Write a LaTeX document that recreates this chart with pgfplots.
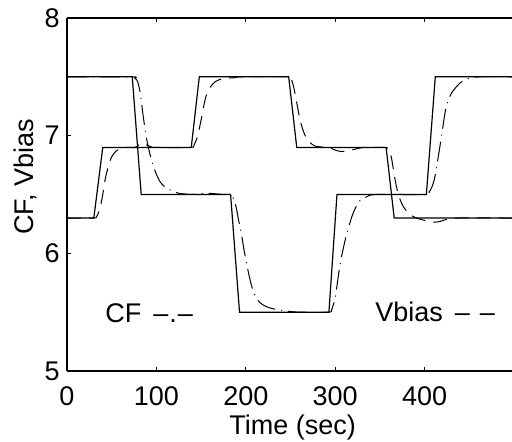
\documentclass[border=0pt]{standalone}
\usepackage{fontspec}
\setmainfont{Liberation Sans}
\usepackage{pgfplots}
\pgfplotsset{compat=1.18}
\newcommand{\fs}{\fontsize{13.5}{16}\selectfont}
\begin{document}
\begin{tikzpicture}
\begin{axis}[
  scale only axis,
  width=222.5pt, height=176.5pt,
  xmin=0, xmax=497.8, ymin=5, ymax=8,
  axis x line*=box, axis y line*=left,
  xtick={0,100,200,300,400}, ytick={5,6,7,8},
  tick align=inside, major tick length=1.8pt,
  every tick/.style={black, line width=0.5pt},
  axis line style={black, line width=0.55pt},
  /pgf/number format/assume math mode=true,
  ticklabel style={font=\fs, inner sep=0pt},
  xticklabel style={anchor=north, yshift=-7.5pt},
  yticklabel style={anchor=east, xshift=-3.5pt},
  xlabel={Time (sec)}, ylabel={CF, Vbias},
  label style={font=\fs, inner sep=0pt},
  xlabel style={at={(axis description cs:0.507,-0.1785)}, anchor=base},
  ylabel style={at={(axis description cs:-0.0764,0.55)}, anchor=base, rotate=0},
]
% CF setpoint
\addplot[black, line width=0.6pt] coordinates {
(0,7.5) (73,7.5) (83,6.5) (183,6.5) (193,5.5) (293,5.5) (302,6.5) (402,6.5) (412,7.5) (500,7.5)};
% Vbias setpoint
\addplot[black, line width=0.6pt] coordinates {
(0,6.3) (30,6.3) (40,6.9) (139,6.9) (148,7.5) (248,7.5) (257,6.9) (357,6.9) (366,6.3) (500,6.3)};
% CF response (dash-dot)
\addplot[black, line width=0.5pt, dash pattern=on 10pt off 3pt on 0.5pt off 3pt, smooth, tension=0.4] coordinates {
(0,7.5) (73,7.5) (76,7.49) (79,7.46) (82,7.36) (85,7.18) (88,7.02) (91,6.90) (95,6.78) (99,6.69)
(104,6.61) (110,6.56) (118,6.53) (125,6.51) (140,6.50) (150,6.51) (160,6.51) (175,6.50) (183,6.50)
(186,6.47) (189,6.40) (192,6.28) (195,6.17) (198,6.03) (201,5.91) (204,5.80) (207,5.71) (211,5.63)
(216,5.58) (222,5.55) (230,5.53) (245,5.51) (260,5.50) (293,5.50) (296,5.52) (300,5.62) (303,5.78)
(306,5.93) (309,6.04) (312,6.14) (315,6.22) (319,6.32) (323,6.39) (328,6.45) (335,6.48) (345,6.50)
(402,6.50) (405,6.52) (408,6.56) (411,6.63) (414,6.76) (417,6.90) (420,7.05) (423,7.20) (426,7.29)
(430,7.36) (435,7.41) (440,7.45) (447,7.48) (460,7.50) (500,7.50)};
% Vbias response (dashed)
\addplot[black, line width=0.5pt, dash pattern=on 7pt off 4pt, smooth, tension=0.4] coordinates {
(0,6.3) (30,6.3) (33,6.31) (36,6.36) (38,6.42) (40,6.50) (43,6.64) (47,6.76) (50,6.82) (55,6.87)
(60,6.89) (66,6.90) (76,6.90) (80,6.92) (84,6.935) (88,6.925) (94,6.905) (100,6.90) (139,6.90)
(142,6.92) (145,6.97) (148,7.06) (151,7.17) (154,7.29) (157,7.37) (161,7.42) (166,7.46) (172,7.48)
(180,7.49) (186,7.49) (195,7.50) (248,7.50) (251,7.48) (254,7.40) (257,7.28) (260,7.16) (263,7.07)
(267,6.99) (272,6.94) (278,6.91) (290,6.90) (296,6.89) (301,6.875) (307,6.865) (314,6.87) (322,6.885)
(332,6.90) (357,6.90) (360,6.88) (363,6.81) (366,6.67) (369,6.55) (372,6.47) (376,6.40) (382,6.34)
(388,6.31) (395,6.29) (403,6.275) (410,6.265) (417,6.27) (425,6.29) (435,6.30) (500,6.30)};
\node[font=\fs, inner sep=0pt, anchor=base west] at (axis cs:42.5,5.415) {CF \,–\kern0.5pt.\kern0.5pt–};
\node[font=\fs, inner sep=0pt, anchor=base west] at (axis cs:344.5,5.42) {Vbias \,–\kern5pt–};
\end{axis}
\pgfresetboundingbox
\path ([shift={(-33.5pt,-35.5pt)}]current axis.south west) rectangle ([shift={(0pt,9pt)}]current axis.north east);
\end{tikzpicture}
\end{document}
